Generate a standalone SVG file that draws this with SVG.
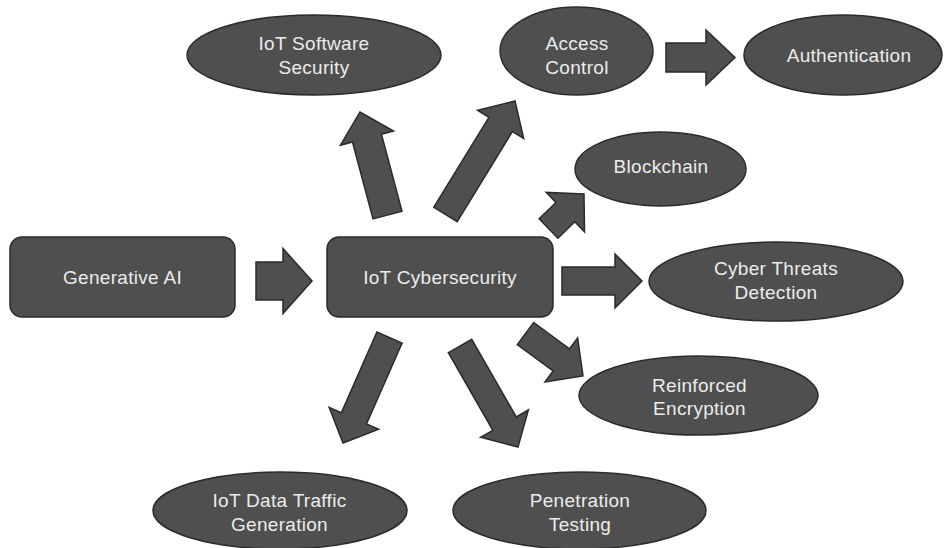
<svg xmlns="http://www.w3.org/2000/svg" width="944" height="548" viewBox="0 0 944 548">
<style>
.shape{fill:#4f4f4f;stroke:#2b2b2b;stroke-width:1.5}
.arrow{fill:#4f4f4f;stroke:#2b2b2b;stroke-width:1.5;stroke-linejoin:miter}
.lbl{font-family:"Liberation Sans",Arial,sans-serif;font-size:19px;letter-spacing:0.3px;fill:#ececec;text-anchor:middle}
</style>
<rect width="944" height="548" fill="#ffffff"/>
<g id="connectors">
<polygon class="arrow" points="256,262 283,262 283,248.5 312,281 283,313.5 283,300 256,300"/>
<polygon class="arrow" points="666,43 706,43 706,30 735,57.5 706,85 706,72 666,72"/>
<polygon class="arrow" points="562,267 615,267 615,254 642,281 615,308 615,295 562,295"/>
<polygon class="arrow" points="401.99,211.13 381.46,134.21 393.54,130.98 360,112 340.40,145.18 352.48,141.95 373.01,218.87"/>
<polygon class="arrow" points="457.23,221.68 512.37,131.63 523.67,138.54 515,101 477.61,110.36 488.91,117.27 433.77,207.32"/>
<polygon class="arrow" points="557.91,238.18 574.77,221.80 584.53,231.84 584,194 546.19,192.40 555.95,202.44 539.09,218.82"/>
<polygon class="arrow" points="517.33,344.56 553.12,371.02 544.95,382.07 583,376 577.63,337.85 569.46,348.90 533.67,322.44"/>
<polygon class="arrow" points="376.92,331.96 341.31,412.75 329.18,407.41 343,443 378.60,429.17 366.47,423.83 402.08,343.04"/>
<polygon class="arrow" points="448.30,352.72 492.85,430.31 480.71,437.29 518,447 528.39,409.89 516.25,416.87 471.70,339.28"/>
</g>
<g id="generative-ai">
<rect class="shape" x="10" y="237" width="225" height="80" rx="12"/>
<text class="lbl" x="122.5" y="284">Generative AI</text>
</g>
<g id="iot-cybersecurity">
<rect class="shape" x="327" y="237" width="226" height="80" rx="12"/>
<text class="lbl" x="440" y="284">IoT Cybersecurity</text>
</g>
<g id="iot-software-security">
<ellipse class="shape" cx="314" cy="55" rx="127" ry="40"/>
<text class="lbl" x="314" y="50">IoT Software</text>
<text class="lbl" x="314" y="74">Security</text>
</g>
<g id="access-control">
<ellipse class="shape" cx="576.5" cy="51" rx="76.5" ry="44"/>
<text class="lbl" x="577" y="50">Access</text>
<text class="lbl" x="577" y="74">Control</text>
</g>
<g id="authentication">
<ellipse class="shape" cx="843" cy="55" rx="99" ry="40"/>
<text class="lbl" x="849" y="62">Authentication</text>
</g>
<g id="blockchain">
<ellipse class="shape" cx="660.5" cy="169" rx="85.5" ry="37"/>
<text class="lbl" x="661" y="173">Blockchain</text>
</g>
<g id="cyber-threats-detection">
<ellipse class="shape" cx="776" cy="281.5" rx="127" ry="39.5"/>
<text class="lbl" x="776" y="275">Cyber Threats</text>
<text class="lbl" x="776" y="299">Detection</text>
</g>
<g id="reinforced-encryption">
<ellipse class="shape" cx="698.5" cy="395.5" rx="119.5" ry="39.5"/>
<text class="lbl" x="699.5" y="392">Reinforced</text>
<text class="lbl" x="699.5" y="415">Encryption</text>
</g>
<g id="iot-data-traffic-generation">
<ellipse class="shape" cx="280" cy="510.5" rx="127" ry="38.5"/>
<text class="lbl" x="279.5" y="507">IoT Data Traffic</text>
<text class="lbl" x="279.5" y="531">Generation</text>
</g>
<g id="penetration-testing">
<ellipse class="shape" cx="579.5" cy="510.5" rx="126.5" ry="38.5"/>
<text class="lbl" x="580" y="507">Penetration</text>
<text class="lbl" x="580" y="531">Testing</text>
</g>
</svg>
